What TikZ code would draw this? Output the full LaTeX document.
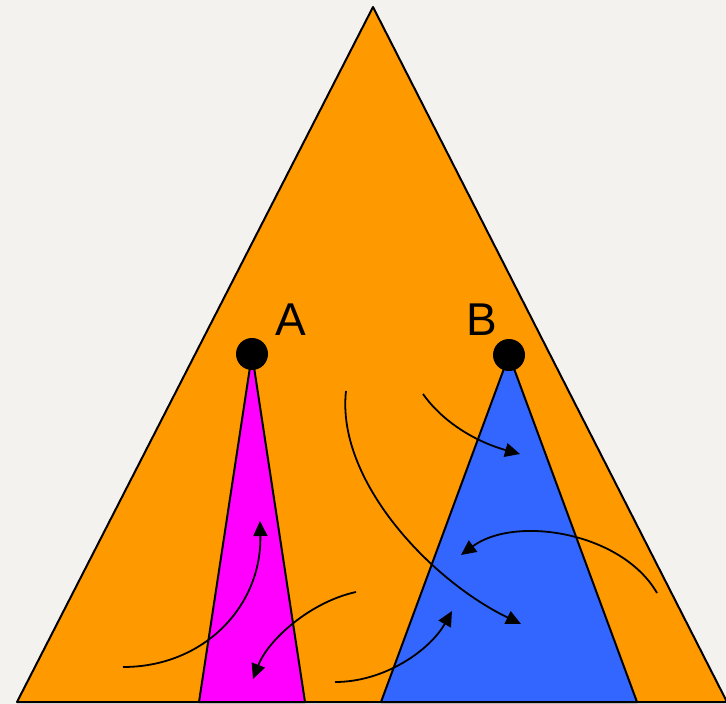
\documentclass[tikz,border=0pt]{standalone}
\usepackage{fontspec}
\setmainfont{Liberation Sans}
\usetikzlibrary{arrows.meta}
\definecolor{bg}{HTML}{F4F2EF}
\definecolor{orng}{HTML}{FF9900}
\definecolor{mgnt}{HTML}{FF00FF}
\definecolor{blu}{HTML}{3366FF}
\begin{document}
\begin{tikzpicture}[x=1pt,y=-1pt,
  tri/.style={draw=black,line width=2pt,line join=round},
  dot/.style={circle,fill=black,inner sep=0pt,minimum size=32pt},
  lbl/.style={font=\fontsize{46}{46}\selectfont,inner sep=0pt},
  arr/.style={line width=1.8pt,-{Triangle[length=15pt,width=14pt]}}]
\fill[bg] (0,0) rectangle (726,704);
\useasboundingbox (0,0) rectangle (726,704);
% outer triangle
\coordinate (top) at (373,7);
\coordinate (ol) at (17,702);
\coordinate (or) at (727,702);
\filldraw[tri,fill=orng] (top) -- (ol) -- (or) -- cycle;
% dots
\coordinate (Ac) at (252,354);
\coordinate (Bc) at (509,355);
\filldraw[tri,fill=mgnt] (Ac) -- (199,702) -- (305,702) -- cycle;
\filldraw[tri,fill=blu] (Bc) -- (381,702) -- (637,702) -- cycle;
\node[dot] (A) at (Ac) {};
\node[dot] (B) at (Bc) {};
\node[lbl] (la) at (291,320) {A};
\node[lbl] (lb) at (482,320) {B};
% arrows
\coordinate (s1) at (346,391); \coordinate (e1) at (521,624);
\coordinate (s2) at (423,394); \coordinate (e2) at (520,454);
\coordinate (s3) at (657,593); \coordinate (e3) at (461,555);
\coordinate (s4) at (335,682); \coordinate (e4) at (452,611);
\coordinate (s5) at (123,667); \coordinate (e5) at (260,521);
\coordinate (s6) at (356,592); \coordinate (e6) at (253,679);
\draw[arr] (s1) .. controls (336,480) and (430,580) .. (e1);
\draw[arr] (s2) .. controls (445,425) and (480,443) .. (e2);
\draw[arr] (s3) .. controls (622,532) and (515,515) .. (e3);
\draw[arr] (s4) .. controls (385,682) and (430,650) .. (e4);
\draw[arr] (s5) .. controls (205,667) and (262,605) .. (e5);
\draw[arr] (s6) .. controls (310,602) and (268,640) .. (e6);
\end{tikzpicture}
\end{document}
